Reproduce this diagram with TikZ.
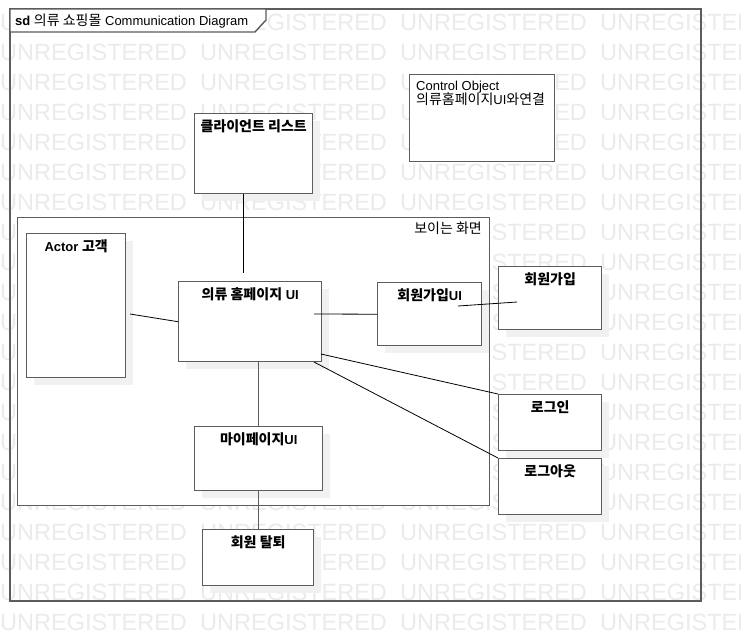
\documentclass[tikz,border=0pt]{standalone}
\usepackage{fontspec}
\setmainfont{Liberation Sans}
\newfontfamily\kr{Noto Sans CJK KR}
\newcommand{\kt}[1]{{\kr\fontsize{14}{16}\selectfont #1}}
\usetikzlibrary{shadows,calc}
\definecolor{bordergray}{HTML}{5C5C5C}
\definecolor{wmgray}{HTML}{EBEBEB}
\definecolor{shadowgray}{HTML}{F1F1F1}
\tikzset{
  wm/.style={anchor=base west, inner sep=0pt, text=wmgray, font=\fontsize{23.5}{24}\selectfont},
  box/.style={draw=bordergray, line width=1.4pt, fill=white, anchor=north west, inner sep=0pt},
  sbox/.style={box, drop shadow={shadow xshift=7pt, shadow yshift=-7pt, fill=shadowgray, opacity=1}},
  ttl/.style={anchor=base, yshift=-18.5pt, inner sep=0pt, font=\fontsize{13}{15}\selectfont\bfseries},
  conn/.style={draw=black, line width=0.8pt},
  gconn/.style={draw=bordergray, line width=1.4pt},
  plain/.style={inner sep=0pt, font=\fontsize{13}{15}\selectfont}
}
\begin{document}
\begin{tikzpicture}[x=1pt, y=-1pt]
\useasboundingbox (0,0) rectangle (741,641);
\fill[white] (0,0) rectangle (741,641);
% watermark
\begin{scope}
\clip (0,0) rectangle (741,641);
\foreach \r in {0,...,20} {
  \foreach \c in {0,...,3} {
    \node[wm, name=wm-\r-\c] at (\c*200, 30+\r*30) {UNREGISTERED};
  }
}
\end{scope}
% outer frame
\draw[draw=bordergray, line width=1.4pt] (10,9) rectangle (701,601);
\filldraw[fill=white, draw=bordergray, line width=1.4pt] (10,9) -- (266,9) -- (266,20) -- (255,32) -- (10,32) -- cycle;
\node[plain, anchor=base west] (frametitle) at (15,25) {\textbf{sd} \kt{의류 쇼핑몰} Communication Diagram};
% boundary frame
\node[box, minimum width=472pt, minimum height=288pt] (screen) at (17,217) {};
\node[plain, anchor=base east] (screenlbl) at (482,233) {\kt{보이는 화면}};
% control object
\node[box, minimum width=145pt, minimum height=87pt] (control) at (409,74) {};
\node[plain, anchor=base west] (controllbl1) at (416,90) {Control Object};
\node[plain, anchor=base west] (controllbl2) at (416,104) {\kt{의류홈페이지}UI\kt{와연결}};
% boxes
\node[sbox, minimum width=118pt, minimum height=80pt, label={[ttl, name=t-client]north:{\kt{클라이언트 리스트}}}] (client) at (194,113) {};
\node[sbox, minimum width=99pt, minimum height=144pt, label={[ttl, name=t-actor]north:{Actor \kt{고객}}}] (actor) at (26,233) {};
\node[sbox, minimum width=143pt, minimum height=80pt, label={[ttl, name=t-home]north:{\kt{의류 홈페이지} UI}}] (home) at (178,281) {};
\node[sbox, minimum width=104pt, minimum height=63pt, label={[ttl, name=t-joinui]north:{\kt{회원가입}UI}}] (joinui) at (377,282) {};
\node[sbox, minimum width=103pt, minimum height=63pt, label={[ttl, name=t-join]north:{\kt{회원가입}}}] (join) at (498,266) {};
\node[sbox, minimum width=103pt, minimum height=56pt, label={[ttl, name=t-login]north:{\kt{로그인}}}] (login) at (498,394) {};
\node[sbox, minimum width=103pt, minimum height=56pt, label={[ttl, name=t-logout]north:{\kt{로그아웃}}}] (logout) at (498,458) {};
\node[sbox, minimum width=128pt, minimum height=64pt, label={[ttl, name=t-mypage]north:{\kt{마이페이지}UI}}] (mypage) at (194,426) {};
\node[sbox, minimum width=111pt, minimum height=56pt, label={[ttl, name=t-withdraw]north:{\kt{회원 탈퇴}}}] (withdraw) at (202,529) {};
% connector end points
\coordinate (c1) at (243,273);
\coordinate (a1) at (130,314);
\coordinate (h1) at (314,314);
\coordinate (j1) at (458,306);
\coordinate (j2) at (517,302);
\coordinate (h2) at (321,354);
\coordinate (h3) at (314,362);
% connectors
\draw[conn] (client.south -| c1) -- (c1);
\draw[conn] (a1) -- (home.west);
\draw[conn] (h1) -- (joinui.west);
\draw[conn] (j1) -- (j2);
\draw[conn] (h2) -- (login.north west);
\draw[conn] (h3) -- (logout.north west);
\draw[gconn] (mypage.north |- home.south) -- (mypage.north);
\draw[gconn] (mypage.south) -- (mypage.south |- withdraw.north);
\end{tikzpicture}
\end{document}
